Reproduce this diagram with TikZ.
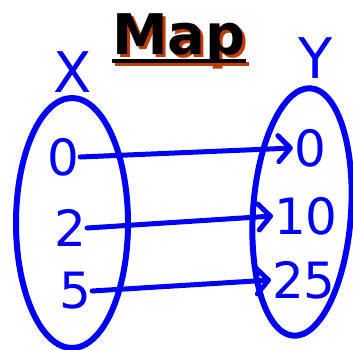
\documentclass[tikz,border=0pt]{standalone}
\usepackage{fontspec}
\setmainfont{DejaVu Sans}
\usetikzlibrary{arrows.meta,shapes.geometric}
\definecolor{penblue}{RGB}{0,0,245}
\definecolor{shadowrust}{RGB}{190,60,10}
\tikzset{
  setoval/.style={
    draw=penblue,
    ellipse,
    line width=6pt,
    inner sep=0pt
  },
  numlabel/.style={
    text=penblue,
    inner sep=1pt,
    font=\fontsize{50}{50}\selectfont
  },
  setlabel/.style={
    text=penblue,
    inner sep=0pt,
    font=\fontsize{56}{56}\selectfont
  },
  maptitle/.style={
    inner sep=0pt,
    anchor=base,
    font=\fontsize{56}{56}\selectfont\bfseries
  },
  maparrow/.style={
    draw=penblue,
    line width=5pt,
    line cap=round,
    -{Straight Barb[length=12pt,width=26pt,line cap=round,line join=round]}
  }
}
\begin{document}
\begin{tikzpicture}[x=1pt,y=-1pt]
  \useasboundingbox (0,0) rectangle (353,349);
  % title with its shadow
  \node[maptitle, text=shadowrust] (titleshadow) at (182,57) {Map};
  \node[maptitle, text=black] (title) at (179,54) {Map};
  \draw[shadowrust, line width=4pt] ([yshift=-7pt]titleshadow.base west) -- ([yshift=-7pt]titleshadow.base east);
  \draw[black, line width=4pt] ([yshift=-7pt]title.base west) -- ([yshift=-7pt]title.base east);
  % the two sets
  \node[setoval, minimum width=112pt, minimum height=250pt] (setX) at (72,223) {};
  \node[setoval, minimum width=98pt, minimum height=248pt, rotate=-4] (setY) at (302,212) {};
  \node[setlabel] (labelX) at (73,72) {X};
  \node[setlabel] (labelY) at (316,58) {Y};
  % elements
  \node[numlabel] (x0) at (63,157) {0};
  \node[numlabel] (x2) at (70,228) {2};
  \node[numlabel] (x5) at (75,291) {5};
  \node[numlabel] (y0) at (310,148) {0};
  \node[numlabel] (y10) at (306,216) {10};
  \node[numlabel] (y25) at (304,280) {25};
  % mapping
  \draw[maparrow] (x0.east) -- (y0.west);
  \draw[maparrow] (x2.east) -- (y10.west);
  \draw[maparrow] (x5.east) -- (y25.west);
\end{tikzpicture}
\end{document}
